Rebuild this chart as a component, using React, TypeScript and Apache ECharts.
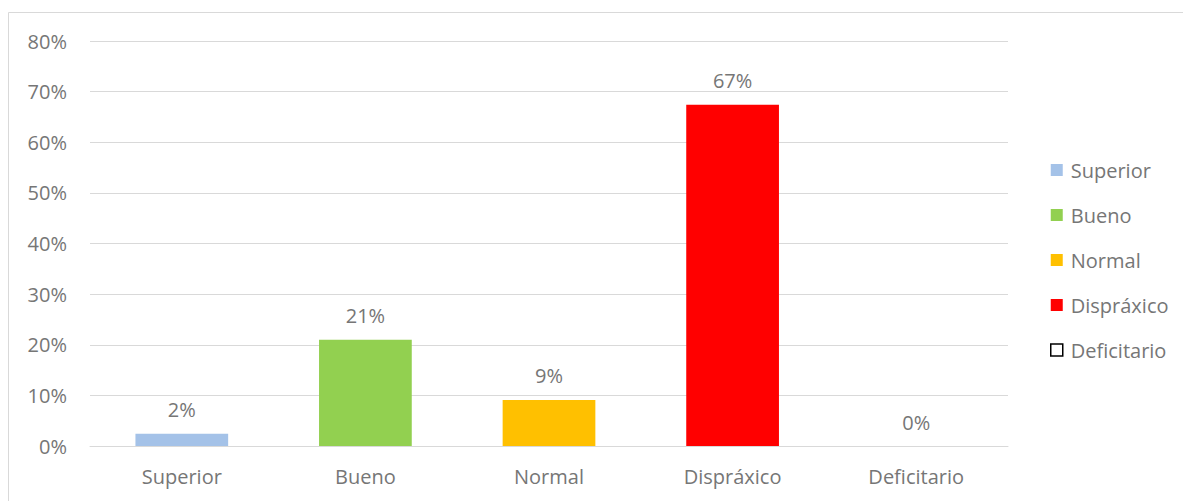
import React, { useEffect, useRef } from "react";
import * as echarts from "echarts";

const categories = ["Superior", "Bueno", "Normal", "Dispráxico", "Deficitario"];
const values = [2.4, 21, 9.1, 67.4, 0];
const colors = ["#a4c2e8", "#92d050", "#ffc000", "#ff0000", "#ffffff"];
const yTicks = [0, 10, 20, 30, 40, 50, 60, 70, 80];

const FONT = "'Open Sans', sans-serif";
const TEXT = "#767676";
const FS = 20;

export default function App() {
  const ref = useRef<HTMLDivElement>(null);
  useEffect(() => {
    if (!ref.current) return;
    const chart = echarts.init(ref.current, null, { renderer: "svg" });
    const series = categories.map((name, i) => ({
      name,
      type: "bar",
      stack: "total",
      barWidth: "50.5%",
      data: categories.map((_, j) => (j === i ? values[i] : "-")),
      itemStyle: { color: colors[i] },
      label: {
        show: true,
        position: "top",
        distance: 14,
        color: TEXT,
        fontFamily: FONT,
        fontSize: FS,
        formatter: (p: any) => Math.round(p.value) + "%",
      },
    }));
    chart.setOption({
      animation: false,
      textStyle: { fontFamily: FONT },
      graphic: [
        {
          type: "polyline",
          shape: { points: [[8.5, 700], [8.5, 12.5], [1300, 12.5]] },
          style: { fill: "none", stroke: "#d9d9d9", lineWidth: 1 },
          silent: true,
        },
      ],
      grid: { left: 90, right: 175, top: 41, bottom: 55 },
      legend: {
        orient: "vertical",
        left: 1045,
        top: 153,
        itemWidth: 12,
        itemHeight: 12,
        itemGap: 21,
        icon: "rect",
        textStyle: {
          color: TEXT,
          fontFamily: FONT,
          fontSize: FS,
          lineHeight: 24,
          padding: [0, 0, 0, 3],
        },
        data: categories.map((name, i) =>
          i === 4
            ? { name, itemStyle: { color: "#ffffff", borderColor: "#000000", borderWidth: 1.5 } }
            : { name }
        ),
      },
      xAxis: {
        type: "category",
        data: categories,
        axisLine: { lineStyle: { color: "#d9d9d9" } },
        axisTick: { show: false },
        axisLabel: { color: TEXT, fontFamily: FONT, fontSize: FS, margin: 20 },
      },
      yAxis: {
        type: "value",
        min: yTicks[0],
        max: yTicks[yTicks.length - 1],
        interval: 10,
        axisLine: { show: false },
        axisTick: { show: false },
        splitLine: { lineStyle: { color: "#d9d9d9" } },
        axisLabel: {
          color: TEXT,
          fontFamily: FONT,
          fontSize: FS,
          margin: 23,
          formatter: (v: number) => v + "%",
        },
      },
      series,
    });
    return () => chart.dispose();
  }, []);
  return (
    <div
      ref={ref}
      style={{ position: "absolute", left: 0, top: 0, width: 1183, height: 501 }}
    />
  );
}
